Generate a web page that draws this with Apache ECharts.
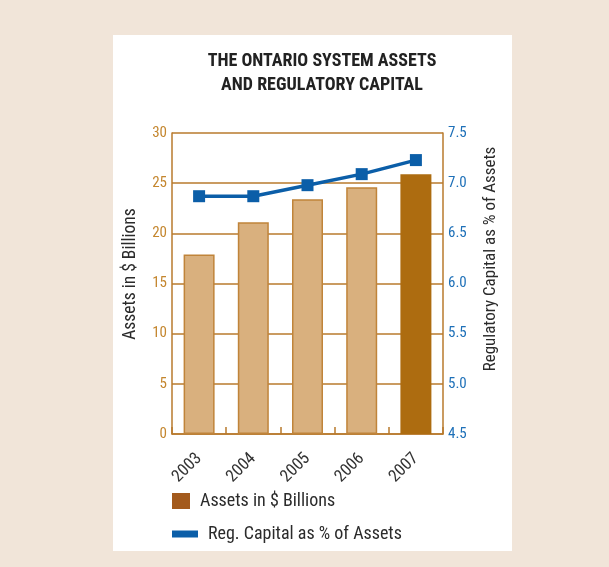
<!DOCTYPE html>
<html>
<head>
<meta charset="utf-8">
<script src="https://cdn.jsdelivr.net/npm/echarts@6/dist/echarts.min.js"></script>
<style>
  html, body { margin: 0; padding: 0; background: #F1E5D9; }
  #chart { width: 609px; height: 567px; }
</style>
</head>
<body>
<div id="chart"></div>
<script>
// Ontario system: assets and regulatory capital, 2003-2007
const years = ['2003', '2004', '2005', '2006', '2007'];
const assetsBillions = [17.9, 21.1, 23.4, 24.6, 25.9];
const regCapitalPct = [6.87, 6.87, 6.98, 7.09, 7.23];
const assetTicks = { min: 0, max: 30, interval: 5 };
const capitalTicks = { min: 4.5, max: 7.5, interval: 0.5 };

const FONT = '"Liberation Sans Narrow", "Roboto Condensed", Roboto, sans-serif';
const AXIS_BROWN = '#B87A2C';
const BAR_LIGHT = '#D9B07E';
const BAR_DARK = '#AD6C10';
const LINE_BLUE = '#0B5EA8';

const chart = echarts.init(document.getElementById('chart'), null, { renderer: 'canvas' });

const barData = assetsBillions.map((v, i) => ({
  value: v,
  itemStyle: i === assetsBillions.length - 1
    ? { color: BAR_DARK, borderColor: BAR_DARK, borderWidth: 0 }
    : { color: BAR_LIGHT, borderColor: '#C0843A', borderWidth: 1.5 }
}));

chart.setOption({
  backgroundColor: '#F1E5D9',
  animation: false,
  graphic: [
    { type: 'rect', shape: { x: 113, y: 35, width: 399, height: 516 }, style: { fill: '#FFFFFF' }, z: -10 },
    {
      type: 'text', x: 131, y: 274, rotation: Math.PI / 2,
      style: { text: 'Assets in $ Billions', font: '17.5px ' + FONT, fill: '#2B2B2B', align: 'center', verticalAlign: 'middle' }
    },
    {
      type: 'text', x: 491, y: 259, rotation: Math.PI / 2,
      style: { text: 'Regulatory Capital as % of Assets', font: '17px ' + FONT, fill: '#2B2B2B', align: 'center', verticalAlign: 'middle' }
    }
  ],
  title: {
    text: 'THE ONTARIO SYSTEM ASSETS\nAND REGULATORY CAPITAL',
    left: 322, top: 49, textAlign: 'center', padding: 0,
    textStyle: { fontFamily: FONT, fontSize: 18, fontWeight: 'bold', color: '#222', lineHeight: 24 }
  },
  legend: [
    {
      data: [{ name: 'Assets in $ Billions', icon: 'rect', itemStyle: { color: '#A35A1C' } }],
      left: 172, top: 492, padding: 0, itemWidth: 18, itemHeight: 16, itemGap: 10,
      textStyle: { fontFamily: FONT, fontSize: 18, color: '#2B2B2B', padding: [0, 0, 0, 5] },
      selectedMode: false
    },
    {
      data: [{ name: 'Reg. Capital as % of Assets', icon: 'rect', itemStyle: { color: LINE_BLUE } }],
      left: 172, top: 525, padding: 0, itemWidth: 26, itemHeight: 7, itemGap: 10,
      textStyle: { fontFamily: FONT, fontSize: 18, color: '#2B2B2B', padding: [0, 0, 0, 5] },
      lineStyle: { width: 0, opacity: 0 },
      selectedMode: false
    }
  ],
  grid: { left: 172, right: 166, top: 133, bottom: 133, containLabel: false },
  xAxis: {
    type: 'category',
    data: years,
    boundaryGap: true,
    axisLine: { lineStyle: { color: AXIS_BROWN, width: 1.5 } },
    axisTick: { show: true, inside: true, length: 7, alignWithLabel: false, lineStyle: { color: AXIS_BROWN, width: 1.5 } },
    axisLabel: { rotate: 45, margin: 22, fontFamily: FONT, fontSize: 17, color: '#333' }
  },
  yAxis: [
    {
      type: 'value',
      min: assetTicks.min, max: assetTicks.max, interval: assetTicks.interval,
      axisLine: { show: true, lineStyle: { color: AXIS_BROWN, width: 1.5 } },
      axisTick: { show: false },
      axisLabel: { margin: 5, fontFamily: FONT, fontSize: 15, color: '#C4862E' },
      splitLine: { show: true, lineStyle: { color: AXIS_BROWN, width: 1.5 } }
    },
    {
      type: 'value',
      min: capitalTicks.min, max: capitalTicks.max, interval: capitalTicks.interval,
      axisLine: { show: true, lineStyle: { color: AXIS_BROWN, width: 1.5 } },
      axisTick: { show: false },
      axisLabel: { margin: 5, fontFamily: FONT, fontSize: 15, color: '#1E70B8', formatter: v => v.toFixed(1) },
      splitLine: { show: false }
    }
  ],
  series: [
    {
      name: 'Assets in $ Billions',
      type: 'bar',
      yAxisIndex: 0,
      barWidth: 31,
      color: '#A35A1C',
      data: barData,
      z: 2
    },
    {
      name: 'Reg. Capital as % of Assets',
      type: 'line',
      yAxisIndex: 1,
      data: regCapitalPct,
      color: LINE_BLUE,
      symbol: 'rect',
      symbolSize: 12,
      lineStyle: { color: LINE_BLUE, width: 3.5 },
      itemStyle: { color: LINE_BLUE },
      z: 5
    }
  ]
});
</script>
</body>
</html>
